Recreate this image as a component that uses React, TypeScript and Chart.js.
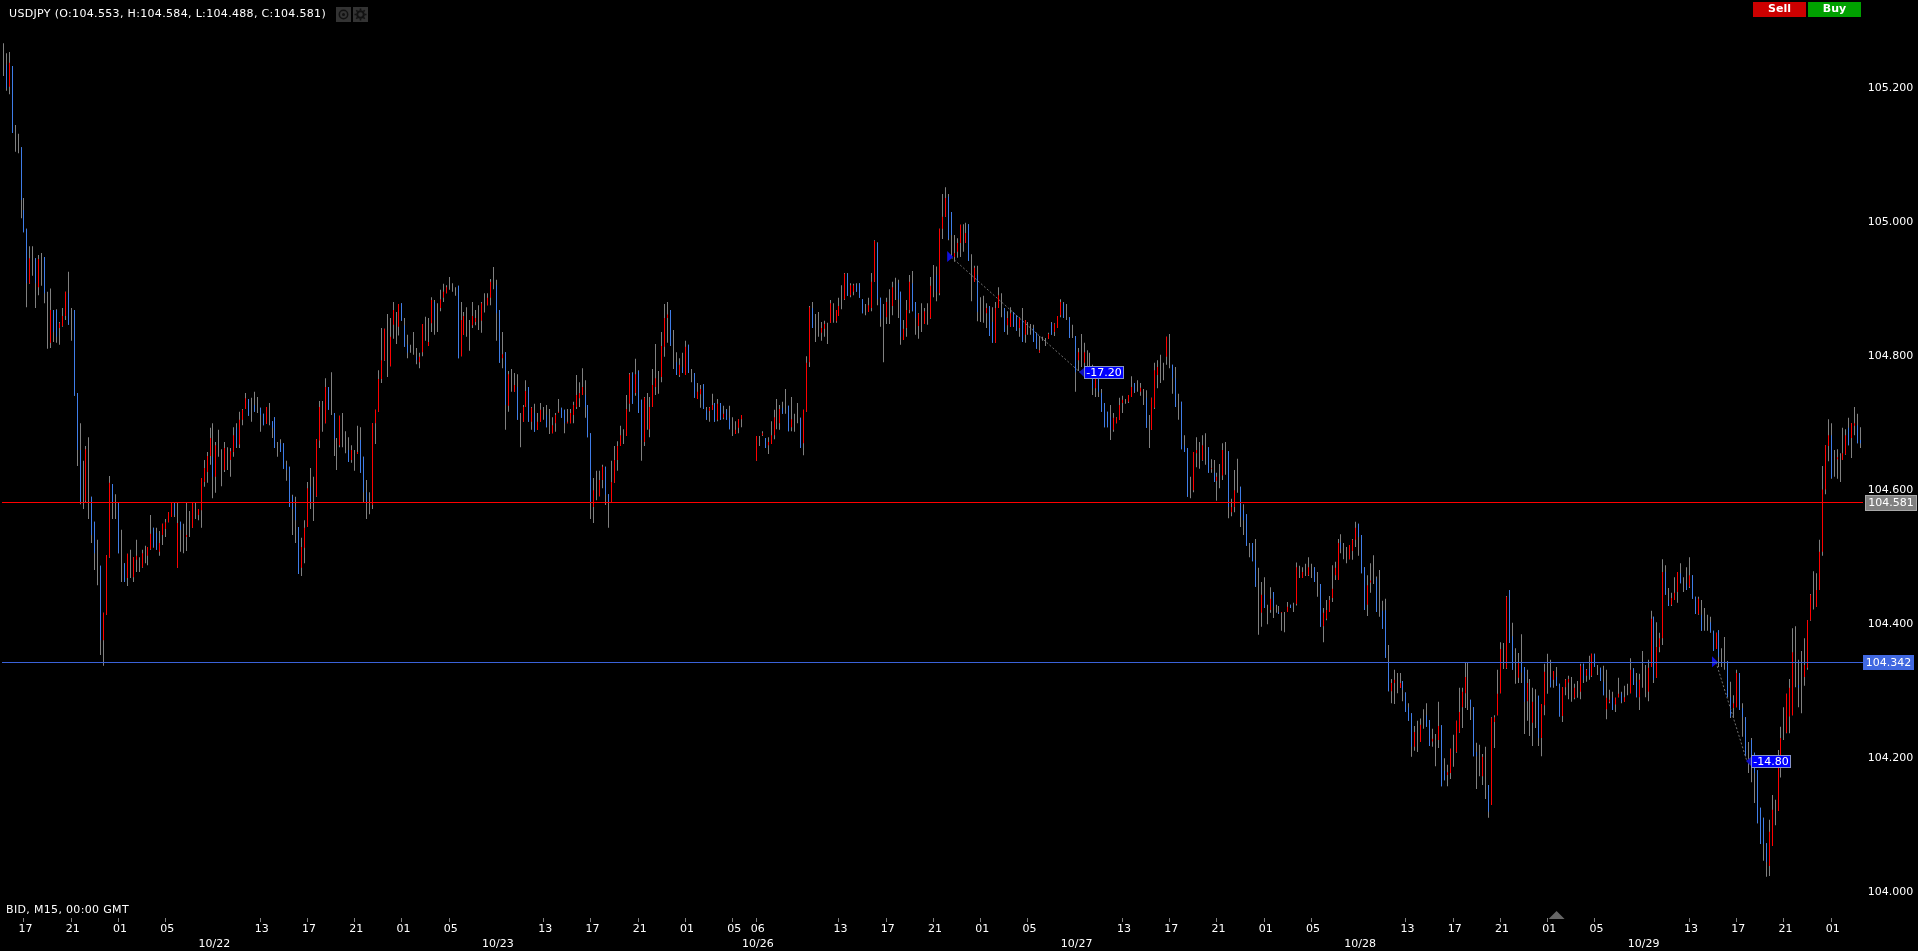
import React, { useEffect, useRef } from "react";
import { Chart, registerables } from "chart.js";

Chart.register(...registerables);

// Prices are given in points (0.001 JPY) above BASE_PRICE. Each row: [high, low, open, close]
const BASE_PRICE = 104;
const POINT = 0.001;
type Row = [number, number, number, number] | null;

const barsOct21: Row[] = [
[1266,1217,1240,1240],[1251,1195,1234,1199],[1253,1190,1201,1237],[1232,1132,1232,1132],[1144,1104,1125,1125],[1131,1102,1116,1116],[1111,1005,1111,1032],[1035,984,1017,984],
[989,872,989,908],[963,907,908,945],[963,919,940,940],[945,871,945,908],[950,890,902,944],[953,904,930,930],[947,878,947,893],[895,810,850,850],
[900,811,819,868],[868,820,868,835],[869,819,868,828],[850,816,841,848],[871,843,844,859],[895,853,859,895],[925,846,893,846],[871,822,850,850],
[868,740,868,740],[744,635,744,659],[699,578,659,580],[643,571,600,600],[665,581,583,660],[678,556,620,620],[589,520,589,532],[552,480,552,505],
[525,457,490,490],[486,353,486,375],[416,337,375,416],
];
const barsOct22: Row[] = [
[502,413,413,502],[620,498,499,610],[608,556,608,581],[593,556,575,575],[580,505,580,505],[540,462,500,500],[490,462,490,462],[504,456,468,504],
[510,468,490,490],[499,462,469,499],[525,477,495,501],[499,477,488,488],[510,483,484,505],[516,490,503,503],[514,487,501,514],[562,510,511,534],
[543,513,543,514],[543,510,535,510],[538,501,507,520],[549,517,532,549],[556,529,541,551],[566,551,551,566],[580,559,559,580],[580,559,580,562],
[580,483,483,550],[552,507,552,540],[549,505,525,525],[580,508,529,532],[568,529,550,550],[580,543,543,580],[580,556,568,568],[571,554,562,571],
[617,543,569,617],[644,604,611,632],[656,610,626,650],[692,637,650,677],[699,587,649,619],[671,595,619,666],[689,649,670,670],[660,605,630,630],
[671,626,629,662],[663,629,645,645],[662,619,644,657],[693,649,656,681],[699,662,692,664],[716,662,667,704],[720,696,704,719],[744,720,720,736],
[735,710,735,710],[737,701,720,720],[746,716,726,716],[738,714,726,726],[722,686,722,711],[713,696,713,696],[723,698,698,723],[729,696,712,712],
[702,677,702,692],[708,662,708,662],[671,649,660,660],[675,656,669,656],[669,631,669,631],[643,613,637,629],[634,574,634,574],[592,532,590,571],
[589,520,574,554],[544,474,544,474],[528,471,483,514],[554,490,513,543],[611,544,544,602],[632,571,604,581],[619,553,585,585],[675,589,590,675],
[732,662,673,723],[732,686,710,710],[766,699,699,753],[753,719,753,719],[775,711,740,740],[714,650,714,675],[677,629,650,650],[710,663,666,710],
[714,663,690,690],[687,654,670,670],[678,641,659,641],[666,640,644,659],[659,628,645,645],[695,653,653,656],[693,625,674,625],[649,581,649,596],
[614,556,596,581],[596,563,580,580],[699,571,577,699],[719,668,699,719],[778,716,716,765],[841,759,765,793],[840,792,793,840],[862,768,820,820],
];
const barsOct23: Row[] = [
[856,784,784,828],[880,825,846,868],[865,817,840,840],[877,830,843,877],[878,852,878,852],[856,813,845,813],[831,796,816,804],[816,804,810,810],
[835,801,818,818],[811,787,798,793],[804,781,790,798],[847,799,805,847],[858,822,840,840],[856,814,814,820],[887,835,848,883],[883,831,880,853],
[878,835,855,855],[898,866,871,884],[907,880,886,895],[905,893,893,902],[917,898,907,907],[908,895,902,902],[902,889,895,895],[904,796,904,796],
[880,799,799,853],[865,831,831,859],[872,828,850,850],[853,807,830,830],[880,841,845,859],[868,845,850,856],[875,838,855,855],[880,834,852,878],
[893,864,880,880],[893,875,875,886],[914,875,886,910],[932,899,915,915],[913,822,905,863],[868,789,868,789],[835,781,796,802],[805,689,805,726],
[777,716,725,772],[780,746,760,760],[774,746,746,756],[772,704,753,704],[714,663,690,690],[726,701,701,723],[763,723,723,747],[753,701,753,701],
[723,689,701,722],[728,686,714,686],[714,689,689,701],[729,701,701,719],[723,704,712,712],[726,693,711,693],[720,683,700,700],[708,684,684,696],
[714,686,699,711],[735,714,714,716],[722,707,722,707],[719,684,719,699],[720,699,699,701],[720,699,699,714],[731,699,711,726],[771,720,723,741],
[760,723,736,744],[781,741,741,753],[763,707,741,723],[726,678,726,678],[684,556,684,581],[617,550,574,599],[628,584,605,605],[628,590,590,614],
[637,602,614,634],[634,577,634,592],[593,543,593,580],[643,580,580,611],[665,610,610,644],[672,628,644,665],[695,665,665,681],[690,668,680,680],
[741,680,680,720],[774,716,728,772],[775,728,774,728],[795,740,744,772],[778,714,777,714],[734,643,734,674],[738,665,671,737],[744,689,715,715],
[738,678,690,723],[780,723,723,756],[817,741,753,766],[777,743,760,760],[835,760,768,814],[877,798,813,856],[880,819,856,861],[868,814,868,815],
];
const barsOct24: Row[] = [
[838,780,810,810],[805,771,790,771],[796,768,771,786],[804,774,783,774],[822,771,771,813],[816,774,816,774],[780,760,770,770],[774,737,774,737],
[759,735,735,746],[756,722,742,750],[757,720,757,720],[723,704,719,704],[723,701,717,722],[743,719,719,726],[729,701,729,701],[735,702,704,728],
[729,704,729,704],[725,705,707,713],[720,704,719,704],[725,690,707,690],[708,680,695,695],[702,683,683,689],[705,684,692,705],[711,693,705,711],
null,null,null,null,
];
const barsOct26: Row[] = [
[680,643,643,680],[680,665,672,672],[687,680,681,684],[677,662,677,662],[678,653,666,671],[702,668,668,681],[719,675,681,708],[735,690,710,710],
[726,689,699,720],[731,713,722,713],[750,713,730,730],[725,687,725,687],[738,687,693,705],[713,686,700,700],[729,699,715,715],[707,662,707,662],
[719,651,669,719],[799,716,716,789],[874,783,790,872],[880,841,871,841],[862,820,840,840],[865,828,845,845],[850,822,834,841],[852,828,840,847],
[849,817,835,835],[883,849,849,878],[878,849,865,865],[868,849,851,868],[886,859,859,874],[905,869,885,885],[923,883,884,922],[923,889,922,889],
[908,887,890,905],[907,890,895,905],[908,895,905,895],[908,886,908,886],[884,863,884,863],[877,860,870,870],[886,865,865,875],[923,866,871,910],
[972,910,910,971],[969,875,968,884],[886,843,886,855],[877,790,840,840],[886,847,857,880],[899,847,870,870],[910,860,874,902],[916,883,900,900],
[913,856,908,884],[895,816,895,828],[853,823,823,840],[883,828,841,868],[920,863,868,910],[926,866,908,866],[880,831,880,856],[863,825,844,862],
[878,835,855,855],[871,847,847,866],[878,846,860,860],[917,855,856,904],[935,887,910,910],[933,881,920,895],[989,890,893,989],[1041,974,989,1007],
[1051,1007,1007,1035],[1041,972,1037,974],[1014,945,1014,980],[980,940,947,953],[975,946,955,968],[995,947,968,995],[996,955,975,975],[998,968,968,983],
];
const barsOct27: Row[] = [
[996,941,996,941],[951,881,915,915],[934,910,910,931],[934,851,920,865],[887,850,870,870],[889,849,870,870],[878,841,863,871],[874,829,874,829],
[872,819,850,819],[880,819,819,871],[902,871,871,890],[893,857,875,875],[871,835,871,835],[866,831,845,856],[872,843,843,863],[865,843,865,843],
[860,837,860,837],[857,828,841,856],[871,820,853,820],[853,819,831,853],[850,831,840,840],[847,831,838,838],[846,820,841,820],[834,810,834,810],
[829,804,805,808],[828,822,825,825],[826,814,820,820],[834,825,825,832],[850,831,848,831],[848,829,835,847],[859,841,841,859],[884,857,860,880],
[880,856,878,856],[877,853,865,865],[857,826,857,826],[846,826,835,835],[829,746,829,775],[811,777,793,805],[832,783,810,810],[819,780,789,805],
[808,765,785,785],[804,768,790,790],[786,741,766,751],[781,738,751,766],[766,738,765,746],[750,716,744,716],[729,693,729,693],[716,693,716,693],
[726,674,708,689],[714,686,689,707],[708,699,699,707],[737,704,704,726],[740,714,729,734],[735,728,731,731],[741,729,731,741],[769,738,738,753],
[759,744,759,746],[763,746,755,755],[759,740,746,752],[750,726,738,738],[748,692,737,692],[711,662,690,690],[737,689,689,737],[789,720,722,778],
[793,751,771,783],[801,759,780,780],[789,763,775,775],[828,786,798,828],[832,781,805,805],[786,743,786,766],[783,723,766,723],[743,704,725,725],
[731,660,731,660],[681,656,666,656],[662,589,662,589],[619,587,600,600],[656,596,599,656],[678,633,654,659],[671,631,650,650],[681,643,644,666],
[684,637,660,660],[663,625,663,625],[645,625,631,632],[644,611,625,611],[625,583,613,619],[638,602,620,620],[669,614,621,659],[671,622,645,645],
[657,557,657,574],[586,560,566,574],[629,566,574,599],[646,595,620,620],[604,544,604,559],[578,532,569,554],[563,516,563,516],[520,499,510,510],
];
const barsOct28: Row[] = [
[520,493,520,493],[526,455,495,455],[483,383,430,430],[462,395,416,443],[469,423,443,423],[428,399,415,415],[454,416,420,437],[447,408,447,425],
[428,416,422,422],[426,414,417,414],[417,389,416,417],[417,387,400,400],[432,417,417,425],[428,423,428,423],[431,417,424,424],[491,427,429,484],
[486,468,478,478],[484,468,468,477],[489,471,480,480],[499,471,472,484],[489,468,478,478],[484,462,484,462],[477,440,460,460],[459,395,459,395],
[423,372,396,416],[435,405,407,420],[441,417,417,435],[487,432,438,452],[492,465,472,483],[526,465,465,520],[533,505,521,512],[520,496,508,508],
[514,490,505,505],[517,496,496,517],[526,495,508,525],[552,514,525,543],[549,501,549,529],[532,475,532,475],[484,420,484,420],[472,411,428,457],
[490,446,461,464],[502,459,480,480],[470,417,467,417],[480,410,445,445],[434,392,419,392],[437,349,420,349],[368,299,343,299],[317,281,299,311],
[331,280,311,316],[326,296,312,312],[326,304,304,311],[314,284,314,301],[297,268,297,268],[281,255,275,255],[266,201,266,216],[247,210,216,238],
[255,208,230,230],[258,223,223,249],[272,243,260,260],[281,246,263,246],[256,217,256,217],[243,216,224,228],[235,187,210,210],[283,214,226,247],
[248,157,248,157],[199,166,180,166],[189,157,174,178],[213,168,177,213],[234,186,210,210],[255,207,208,255],[304,237,238,268],[304,244,275,298],
[341,274,296,320],[341,271,300,300],[286,256,286,275],[275,202,275,202],[222,153,208,202],[219,172,195,195],[205,159,172,201],[216,138,175,175],
[159,110,159,119],[260,129,129,259],[263,214,253,260],[331,263,263,295],[372,296,296,362],[371,332,350,350],[441,332,333,440],[450,371,450,371],
[401,331,381,331],[363,310,335,335],[356,311,319,342],[384,311,342,327],[335,235,335,283],[331,255,284,311],[317,232,270,270],[304,217,252,283],
];
const barsOct29: Row[] = [
[302,244,270,270],[292,217,292,229],[280,202,229,280],[340,263,278,328],[355,295,320,320],[346,305,320,305],[329,304,316,329],[335,307,320,307],
[310,261,310,261],[305,253,262,305],[317,293,305,316],[322,287,312,317],[320,283,300,300],[310,287,289,304],[314,289,300,300],[340,287,298,337],
[340,311,340,316],[332,313,322,331],[352,316,332,322],[355,320,322,355],[355,335,355,335],[338,323,330,330],[334,314,334,314],[337,293,313,293],
[331,257,272,289],[301,281,283,286],[298,271,289,271],[289,268,279,289],[319,290,290,295],[298,281,296,283],[307,283,283,290],[310,293,300,300],
[348,296,296,331],[333,308,333,308],[326,290,313,290],[325,271,290,316],[359,304,330,330],[338,290,315,315],[346,284,298,334],[419,335,335,407],
[410,311,410,316],[402,319,319,365],[386,357,365,378],[496,368,378,477],[487,443,477,443],[453,426,435,426],[446,426,428,438],[469,435,435,446],
[477,431,447,477],[490,460,475,460],[469,447,458,458],[484,450,460,450],[499,453,455,472],[472,437,472,437],[440,414,440,414],[440,413,414,437],
[435,389,413,389],[423,389,405,405],[413,389,400,400],[410,386,402,387],[389,359,389,359],[386,362,362,386],[390,335,390,350],[363,335,350,350],
[380,331,355,355],[344,290,341,290],[313,259,290,261],[293,259,274,281],[331,275,275,326],[326,271,326,271],[281,231,274,260],[260,202,260,202],
[223,177,200,200],[229,163,226,186],[207,132,207,177],[181,102,181,102],[125,71,125,71],[110,46,110,71],[72,22,72,44],[107,23,38,89],
[144,68,68,122],[137,99,120,120],[211,120,120,193],[246,170,184,229],[275,226,250,250],[295,236,237,295],[317,236,261,304],[393,263,263,357],
[396,305,350,350],[346,275,308,304],[359,266,310,310],[378,307,320,338],[405,331,334,405],[444,404,405,443],[478,421,450,450],[475,425,425,450],
];
const barsOct30: Row[] = [
[525,450,450,507],[635,501,507,600],[666,593,600,666],[705,642,665,681],[699,616,681,617],[659,619,640,640],[660,616,645,648],[654,611,630,630],
[692,644,644,654],[690,652,653,681],[707,666,692,666],[699,647,677,699],[723,681,695,699],[713,669,696,669],[693,662,674,669],
];

// Time-axis labels, as [slot, label]
const hourTicks: [number, string][] = [
[7,"17"],[23,"21"],[39,"01"],[55,"05"],[87,"13"],[103,"17"],[119,"21"],[135,"01"],[151,"05"],[183,"13"],[199,"17"],[215,"21"],[231,"01"],[247,"05"],
[255,"06"],[283,"13"],[299,"17"],[315,"21"],[331,"01"],[347,"05"],[379,"13"],[395,"17"],[411,"21"],[427,"01"],[443,"05"],[475,"13"],[491,"17"],[507,"21"],
[523,"01"],[539,"05"],[571,"13"],[587,"17"],[603,"21"],[619,"01"],
];
const dateTicks: [number, string][] = [[71,"10/22"],[167,"10/23"],[255,"10/26"],[363,"10/27"],[459,"10/28"],[555,"10/29"]];
const priceTicks = [104.0, 104.2, 104.4, 104.6, 104.8, 105.0, 105.2];

const SYMBOL_TEXT = "USDJPY (O:104.553, H:104.584, L:104.488, C:104.581)";
const FEED_TEXT = "BID, M15, 00:00 GMT";
const CURRENT_PRICE = 104.581;
const MARKED_PRICE = 104.342;
// [startSlot, startPrice, endSlot, endPrice, label]
const trades: [number, number, number, number, string][] = [
  [321, 104.947, 364.6, 104.775, "-17.20"],
  [580, 104.342, 590.5, 104.194, "-14.80"],
];
const MARKER_SLOT = 526;

const FONT = '11px "DejaVu Sans"';
const RED = "#ff0000";
const BLUE = "#3f7de8";
const GREY = "#808080";

const rows: Row[] = [...barsOct21, ...barsOct22, ...barsOct23, ...barsOct24, ...barsOct26, ...barsOct27, ...barsOct28, ...barsOct29, ...barsOct30];
const px = (v: number) => BASE_PRICE + v * POINT;

const snapPlugin = {
  id: "snap",
  beforeDatasetsDraw(chart: any) {
    chart.data.datasets.forEach((_: any, i: number) => {
      for (const el of chart.getDatasetMeta(i).data) el.x = Math.floor(el.x) + 0.5;
    });
  },
};

function tag(ctx: CanvasRenderingContext2D, x: number, y: number, w: number, h: number, fill: string, stroke: string | null, text: string) {
  ctx.fillStyle = fill;
  ctx.fillRect(x, y, w, h);
  if (stroke) {
    ctx.strokeStyle = stroke;
    ctx.lineWidth = 1;
    ctx.strokeRect(x + 0.5, y + 0.5, w - 1, h - 1);
  }
  ctx.fillStyle = "#ffffff";
  ctx.font = FONT;
  ctx.textAlign = "center";
  ctx.textBaseline = "middle";
  ctx.fillText(text, x + w / 2, y + h / 2 + 0.5);
}

function triangle(ctx: CanvasRenderingContext2D, pts: number[][], fill: string) {
  ctx.fillStyle = fill;
  ctx.beginPath();
  ctx.moveTo(pts[0][0], pts[0][1]);
  ctx.lineTo(pts[1][0], pts[1][1]);
  ctx.lineTo(pts[2][0], pts[2][1]);
  ctx.closePath();
  ctx.fill();
}

const overlayPlugin = {
  id: "overlay",
  afterDraw(chart: any) {
    const { ctx, scales } = chart;
    const xs = scales.x;
    const ys = scales.y;
    ctx.save();

    // dotted trade links with markers and value callouts
    for (const [s0, p0, s1, p1, label] of trades) {
      const x0 = xs.getPixelForValue(s0);
      const y0 = ys.getPixelForValue(p0);
      const x1 = xs.getPixelForValue(s1);
      const y1 = ys.getPixelForValue(p1);
      ctx.strokeStyle = "#707070";
      ctx.lineWidth = 1;
      ctx.setLineDash([2, 2]);
      ctx.beginPath();
      ctx.moveTo(x0, y0);
      ctx.lineTo(x1, y1);
      ctx.stroke();
      ctx.setLineDash([]);
      triangle(ctx, [[x0 - 4, y0 - 6], [x0 - 4, y0 + 5], [x0 + 2, y0]], "#1010e0");
      const bx = Math.round(x1) + 4;
      const by = Math.round(y1) - 6;
      triangle(ctx, [[bx, by + 2], [bx, by + 11], [bx - 5, by + 6]], "#1010c0");
      tag(ctx, bx, by, 40, 13, "#0000ff", "#8894c8", label);
    }

    // horizontal price lines
    const yRed = Math.round(ys.getPixelForValue(CURRENT_PRICE));
    const yBlue = Math.round(ys.getPixelForValue(MARKED_PRICE));
    ctx.fillStyle = RED;
    ctx.fillRect(2, yRed, 1861, 1);
    ctx.fillStyle = "#3a62d8";
    ctx.fillRect(2, yBlue, 1861, 1);
    tag(ctx, 1865, yRed - 7, 52, 16, GREY, "#a8a8a8", CURRENT_PRICE.toFixed(3));
    tag(ctx, 1863, yBlue - 7, 51, 15, "#4169e1", null, MARKED_PRICE.toFixed(3));

    // header
    ctx.font = FONT;
    ctx.textAlign = "left";
    ctx.textBaseline = "middle";
    ctx.fillStyle = "#ffffff";
    (ctx as any).letterSpacing = "0.33px";
    ctx.fillText(SYMBOL_TEXT, 9, 14);
    ctx.fillText(FEED_TEXT, 6, 910.5);
    (ctx as any).letterSpacing = "0px";

    // header icons
    ctx.fillStyle = "#333333";
    ctx.fillRect(336, 7, 15, 15);
    ctx.fillRect(353, 7, 15, 15);
    ctx.strokeStyle = "#111111";
    ctx.lineWidth = 1.5;
    ctx.beginPath();
    ctx.arc(343.5, 14.5, 4.2, 0, Math.PI * 2);
    ctx.stroke();
    ctx.fillStyle = "#111111";
    ctx.beginPath();
    ctx.arc(343.5, 14.5, 1.5, 0, Math.PI * 2);
    ctx.fill();
    ctx.strokeStyle = "#111111";
    ctx.lineWidth = 2;
    ctx.beginPath();
    ctx.arc(360.5, 14.5, 3.3, 0, Math.PI * 2);
    ctx.stroke();
    ctx.lineWidth = 1.6;
    for (let a = 0; a < 8; a++) {
      const t = (a * Math.PI) / 4;
      ctx.beginPath();
      ctx.moveTo(360.5 + Math.cos(t) * 4, 14.5 + Math.sin(t) * 4);
      ctx.lineTo(360.5 + Math.cos(t) * 6, 14.5 + Math.sin(t) * 6);
      ctx.stroke();
    }

    // buttons
    ctx.font = 'bold 11px "DejaVu Sans"';
    ctx.textAlign = "center";
    ctx.fillStyle = "#cc0000";
    ctx.fillRect(1753, 2, 53, 15);
    ctx.fillStyle = "#00a000";
    ctx.fillRect(1808, 2, 53, 15);
    ctx.fillStyle = "#ffffff";
    ctx.fillText("Sell", 1779.5, 9.5);
    ctx.fillText("Buy", 1834.5, 9.5);

    // position marker on the time axis
    const mx = xs.getPixelForValue(MARKER_SLOT);
    triangle(ctx, [[mx - 8, 919], [mx + 8, 919], [mx, 911]], "#666666");
    ctx.restore();
  },
};

export default function App() {
  const ref = useRef<HTMLCanvasElement>(null);
  useEffect(() => {
    document.body.style.margin = "0";
    document.body.style.background = "#000";
    document.body.style.overflow = "hidden";
    const labelFor = new Map<number, string | string[]>();
    hourTicks.forEach(([s, t]) => labelFor.set(s, t));
    dateTicks.forEach(([s, t]) => {
      const h = labelFor.get(s);
      labelFor.set(s, [typeof h === "string" ? h : "", t]);
    });
    const hourSlots = new Set(hourTicks.map(([s]) => s));
    const slots = Array.from(labelFor.keys()).sort((a, b) => a - b);

    const chart = new Chart(ref.current as HTMLCanvasElement, {
      type: "bar",
      data: {
        labels: rows.map((_, i) => String(i)),
        datasets: [
          {
            label: "Body",
            data: rows.map((r) => (r ? [px(r[2]), px(r[3])] : null)) as any,
            backgroundColor: rows.map((r) => (r && r[3] >= r[2] ? RED : BLUE)),
            barThickness: 1,
            inflateAmount: 0,
            grouped: false,
            clip: false as any,
          },
          {
            label: "Range",
            data: rows.map((r) => (r ? [px(r[1]), px(r[0])] : null)) as any,
            backgroundColor: GREY,
            barThickness: 1,
            inflateAmount: 0,
            grouped: false,
            clip: false as any,
          },
        ],
      },
      options: {
        responsive: false,
        animation: false,
        events: [],
        layout: { padding: { left: 3.3, right: 0, top: 0, bottom: 0 } },
        plugins: { legend: { display: false }, tooltip: { enabled: false }, title: { display: false } },
        scales: {
          x: {
            type: "category",
            offset: false,
            border: { display: false },
            grid: {
              offset: false,
              drawOnChartArea: false,
              drawTicks: true,
              tickLength: 4,
              tickColor: (c: any) => (c.tick && hourSlots.has(c.tick.value) ? "#808080" : "rgba(0,0,0,0)"),
            },
            ticks: {
              autoSkip: false,
              maxRotation: 0,
              minRotation: 0,
              padding: 0,
              labelOffset: 1.5,
              color: "#ffffff",
              font: { family: "DejaVu Sans", size: 11, lineHeight: 1.36 },
              callback: (v: any) => labelFor.get(Number(v)) ?? "",
            },
            afterBuildTicks: (axis: any) => {
              axis.ticks = slots.map((value) => ({ value }));
            },
            afterFit: (axis: any) => {
              axis.height = 33;
              axis.paddingLeft = 0;
              axis.paddingRight = 0;
            },
          },
          y: {
            type: "linear",
            position: "right",
            min: 103.9604,
            max: 105.3306,
            border: { display: false },
            grid: { display: false, drawTicks: false },
            ticks: {
              padding: 7,
              labelOffset: 1,
              color: "#ffffff",
              font: { family: "DejaVu Sans", size: 11 },
              callback: (v: any) => Number(v).toFixed(3),
            },
            afterBuildTicks: (axis: any) => {
              axis.ticks = priceTicks.map((value) => ({ value }));
            },
            afterFit: (axis: any) => {
              axis.width = 57.3;
              axis.paddingTop = 0;
              axis.paddingBottom = 0;
            },
          },
        },
      },
      plugins: [snapPlugin, overlayPlugin],
    } as any);
    return () => chart.destroy();
  }, []);
  return <canvas ref={ref} width={1918} height={951} style={{ display: "block", background: "#000" }} />;
}
